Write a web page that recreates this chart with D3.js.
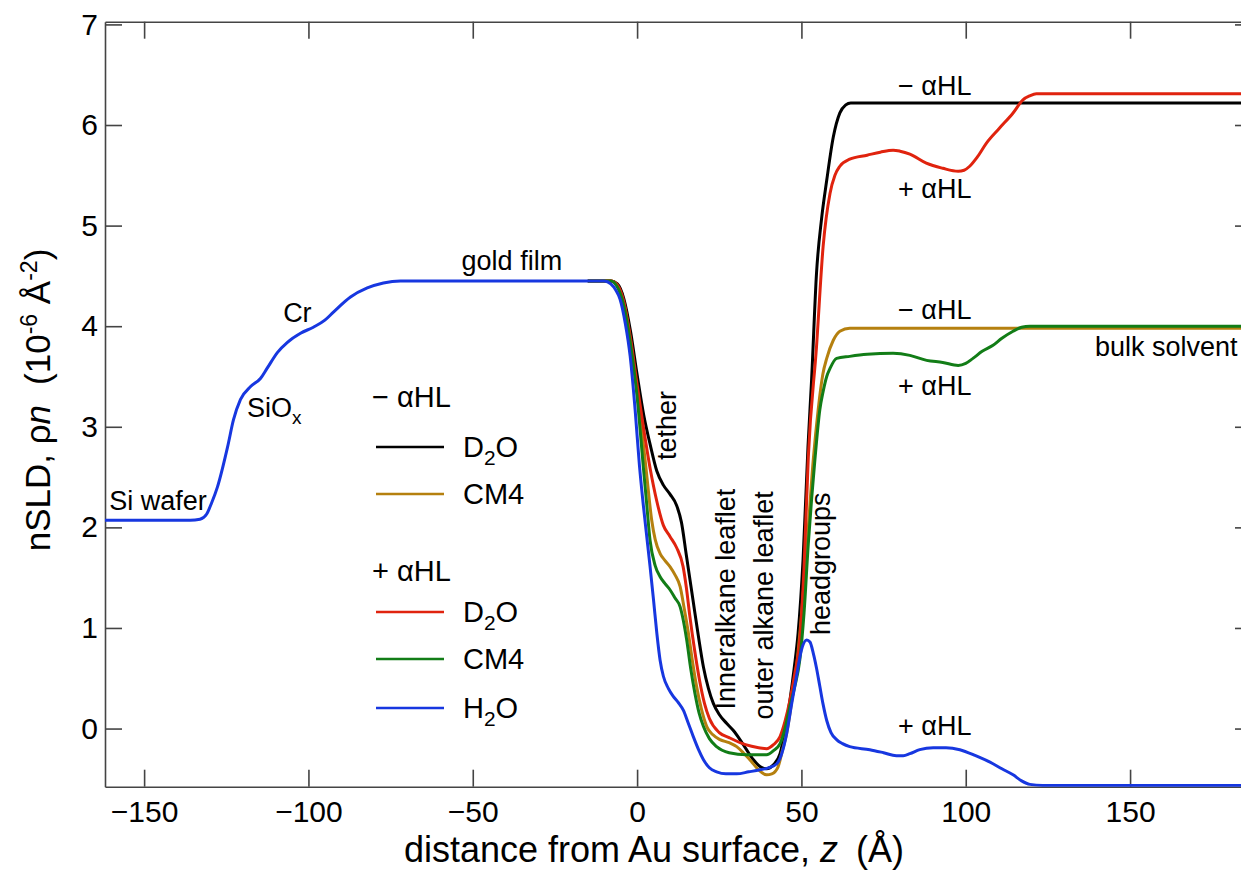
<!DOCTYPE html>
<html>
<head>
<meta charset="utf-8">
<script src="https://cdn.jsdelivr.net/npm/d3@7"></script>
<style>
  html, body { margin: 0; padding: 0; background: #fff; overflow: hidden; }
  svg { display: block; font-family: "Liberation Sans", Arial, Helvetica, sans-serif; }
  .axis path, .axis line { stroke: #444; stroke-width: 1.6; }
  .axis text { fill: #000; font-size: 30px; }
  .curve { fill: none; stroke-width: 3; stroke-linejoin: round; }
</style>
</head>
<body>
<div id="chart"></div>
<script>
// nSLD profiles, [z (Å), rho (1e-6 Å^-2)]
const h2oPlus = [[-161.9,2.07],[-136,2.07],[-133,2.08],[-131,2.13],[-129.5,2.24],[-127.7,2.40],[-124.6,2.80],[-122.8,3.07],[-120.7,3.27],[-117.6,3.40],[-114.6,3.48],[-112.6,3.58],[-109.4,3.74],[-106.4,3.84],[-102.4,3.93],[-98.5,3.99],[-95,4.06],[-92.4,4.14],[-87.2,4.29],[-82.1,4.38],[-77.2,4.43],[-72,4.45],[-10,4.45],[-8,4.42],[-6.5,4.36],[-5.2,4.27],[-3.6,4.03],[-2.1,3.70],[-0.6,3.17],[0.7,2.62],[1.9,2.22],[2.8,1.95],[3.95,1.61],[5,1.28],[6,0.95],[7,0.68],[8,0.52],[9.5,0.40],[11,0.32],[12.5,0.26],[14.1,0.18],[15.5,0.06],[17.1,-0.08],[18.7,-0.21],[20.2,-0.31],[22,-0.39],[24.2,-0.43],[27,-0.45],[30.3,-0.45],[34,-0.43],[37.4,-0.41],[40,-0.39],[42.5,-0.35],[44,-0.25],[45.5,-0.05],[47,0.24],[48.5,0.52],[50,0.78],[51.6,0.88],[52.6,0.86],[53.6,0.75],[54.6,0.6],[55.6,0.42],[56.6,0.24],[57.7,0.08],[59,-0.04],[60.7,-0.11],[62.5,-0.15],[64.7,-0.18],[70.8,-0.21],[75,-0.24],[78.9,-0.27],[81,-0.27],[83,-0.25],[86,-0.21],[90.1,-0.19],[94,-0.19],[98.2,-0.21],[103,-0.27],[108.3,-0.35],[111,-0.40],[114.4,-0.46],[117,-0.52],[119.5,-0.555],[123.4,-0.565],[187.1,-0.565]];

const d2oMinus = [[-15,4.45],[-8,4.45],[-6,4.42],[-4,4.27],[-2,3.95],[0,3.52],[2,3.12],[4,2.82],[6,2.56],[8,2.42],[10,2.33],[12,2.22],[13.5,2.05],[15,1.72],[17,1.28],[18.6,0.93],[20.2,0.61],[21.7,0.40],[23.2,0.25],[25,0.14],[27.3,0.05],[29.3,-0.02],[31.3,-0.11],[33.3,-0.21],[35.4,-0.31],[37.5,-0.38],[39.4,-0.40],[41.5,-0.36],[43.5,-0.25],[45,-0.02],[46.5,0.28],[47.8,0.60],[49,0.95],[50.5,1.68],[52,2.80],[53.1,3.47],[54.6,4.53],[56.1,5.06],[57.7,5.45],[59.7,5.88],[61.7,6.12],[63.5,6.20],[65,6.22],[187.1,6.22]];

const cm4Minus = [[-15,4.45],[-8,4.45],[-6,4.40],[-4,4.22],[-2,3.85],[0,3.35],[2,2.80],[3,2.50],[4.45,2.07],[5.5,1.88],[7,1.74],[8.5,1.67],[10,1.61],[11.5,1.53],[13.1,1.41],[14.3,1.20],[15.6,0.95],[16.8,0.68],[18.1,0.42],[19.6,0.19],[21.2,0.02],[23,-0.06],[25.2,-0.11],[28,-0.14],[30.3,-0.18],[32.3,-0.24],[34.3,-0.31],[37,-0.41],[39.4,-0.46],[41,-0.45],[42.9,-0.38],[44.2,-0.22],[45.5,-0.05],[47,0.26],[48.5,0.61],[50,1.12],[51.6,1.77],[53.6,2.67],[55.1,3.17],[56.5,3.52],[57.7,3.68],[59.7,3.86],[61.7,3.95],[64.7,3.98],[187.1,3.98]];

const d2oPlus = [[-15,4.45],[-8,4.45],[-6,4.41],[-4,4.24],[-2,3.88],[0,3.42],[2,2.98],[4,2.58],[6,2.26],[8,2.02],[10,1.91],[12,1.80],[14,1.61],[15,1.40],[16,1.13],[17.5,0.78],[19,0.48],[20.5,0.25],[22,0.10],[25,-0.04],[28,-0.09],[33,-0.16],[37,-0.19],[39.4,-0.20],[41.5,-0.16],[43.5,-0.08],[45,0.07],[46.5,0.28],[48,0.55],[49.5,0.88],[50.8,1.6],[52.1,2.70],[54.6,3.80],[56.6,4.79],[58.7,5.32],[60.2,5.50],[61.7,5.59],[64.7,5.66],[70,5.70],[74,5.73],[77.9,5.75],[80,5.74],[83,5.71],[88,5.62],[93,5.57],[97.7,5.54],[99.5,5.55],[101.2,5.59],[103.5,5.68],[106.3,5.82],[110.3,5.97],[114.4,6.12],[117.4,6.25],[119.5,6.29],[121.5,6.31],[187.1,6.31]];

const cm4Plus = [[-15,4.45],[-8,4.45],[-6,4.39],[-4,4.20],[-2,3.82],[0,3.30],[1.9,2.60],[2.9,2.24],[3.95,1.87],[5.5,1.62],[7,1.51],[8.5,1.44],[10,1.38],[11.5,1.30],[13.1,1.21],[14.1,1.07],[15.1,0.88],[16.3,0.60],[17.6,0.35],[18.9,0.15],[20.2,0.02],[22,-0.10],[24.2,-0.18],[28,-0.24],[33.3,-0.26],[39.4,-0.26],[41.5,-0.22],[43.5,-0.15],[45,0.00],[46.5,0.22],[48,0.42],[49.5,0.68],[50.8,1.15],[52.1,1.84],[53.1,2.28],[54.1,2.67],[55.6,3.17],[56.6,3.35],[57.7,3.50],[58.7,3.58],[60.7,3.68],[64.7,3.70],[70,3.72],[77.9,3.73],[83,3.71],[88.1,3.66],[93,3.64],[97.7,3.61],[100,3.63],[102.2,3.68],[105,3.75],[108.3,3.81],[111,3.88],[114.4,3.95],[117,3.99],[119.5,4.00],[187.1,4.00]];

const xTicks = [-150, -100, -50, 0, 50, 100, 150];
const yTicks = [0, 1, 2, 3, 4, 5, 6, 7];

// draw order: later ones on top
const series = [
  { name: `D2O`, group: `minus`, color: `#000000`, data: d2oMinus },
  { name: `CM4`, group: `minus`, color: `#b5800f`, data: cm4Minus },
  { name: `D2O`, group: `plus`, color: `#e0230e`, data: d2oPlus },
  { name: `CM4`, group: `plus`, color: `#127d17`, data: cm4Plus },
  { name: `H2O`, group: `plus`, color: `#1737e0`, data: h2oPlus }
];

// [text, z, rho]
const annotations = [
  [`Si wafer`, -160.6, 2.17],
  [`Cr`, -107.7, 4.04],
  [`gold film`, -53.4, 4.56],
  [`− αHL`, 79.4, 6.30],
  [`+ αHL`, 79.4, 5.27],
  [`− αHL`, 79.4, 4.07],
  [`+ αHL`, 79.4, 3.32],
  [`bulk solvent`, 139.3, 3.70],
  [`+ αHL`, 79.4, -0.06]
];
// rotated labels [text, z (baseline), rho (start)]
const vLabels = [
  [`tether`, 11.9, 2.67],
  [`Inneralkane leaflet`, 29.8, 0.19],
  [`outer alkane leaflet`, 41.4, 0.09],
  [`headgroups`, 58.6, 0.93]
];

const W = 1241, H = 871;
const m = { left: 105, right: 1252, top: 21.7, bottom: 786.7 };

const x = d3.scaleLinear().domain([-161.9, 187.1]).range([m.left, m.right]);
const y = d3.scaleLinear().domain([-0.578, 7.027]).range([m.bottom, m.top]);

const svg = d3.select(`#chart`).append(`svg`)
    .attr(`width`, W)
    .attr(`height`, H);

svg.append(`clipPath`).attr(`id`, `clip`)
  .append(`rect`)
    .attr(`x`, m.left).attr(`y`, m.top)
    .attr(`width`, m.right - m.left).attr(`height`, m.bottom - m.top);

const fmt = (d) => d < 0 ? `−${Math.abs(d)}` : `${d}`;

svg.append(`g`).attr(`class`, `axis`)
    .attr(`transform`, `translate(0,${m.bottom})`)
    .call(d3.axisBottom(x).tickValues(xTicks).tickFormat(fmt).tickSizeInner(-17).tickSizeOuter(0).tickPadding(14));
svg.append(`g`).attr(`class`, `axis`)
    .attr(`transform`, `translate(0,${m.top})`)
    .call(d3.axisTop(x).tickValues(xTicks).tickFormat(``).tickSizeInner(-17).tickSizeOuter(0));
svg.append(`g`).attr(`class`, `axis`)
    .attr(`transform`, `translate(${m.left},0)`)
    .call(d3.axisLeft(y).tickValues(yTicks).tickSizeInner(-17).tickSizeOuter(0).tickPadding(7));
svg.append(`g`).attr(`class`, `axis`)
    .attr(`transform`, `translate(${m.right},0)`)
    .call(d3.axisRight(y).tickValues(yTicks).tickFormat(``).tickSizeInner(-17).tickSizeOuter(0));

svg.selectAll(`.axis`).attr(`font-family`, null).attr(`font-size`, null);

const line = d3.line()
    .x((d) => x(d[0]))
    .y((d) => y(d[1]))
    .curve(d3.curveMonotoneX);

svg.append(`g`).attr(`clip-path`, `url(#clip)`)
  .selectAll(`path`)
    .data(series)
  .enter().append(`path`)
    .attr(`class`, `curve`)
    .attr(`stroke`, (d) => d.color)
    .attr(`d`, (d) => line(d.data));

// subscript helper: "D2O" -> D<sub>2</sub>O
const addChem = (sel, s, size) => {
  const m2 = s.match(/^([A-Z])(\d)(.*)$/);
  if (!m2) { sel.text(s); return; }
  sel.append(`tspan`).text(m2[1]);
  sel.append(`tspan`).attr(`dy`, size * 0.28).attr(`font-size`, size * 0.72).text(m2[2]);
  sel.append(`tspan`).attr(`dy`, -size * 0.28).text(m2[3]);
};

// annotations
const ann = svg.append(`g`).attr(`font-size`, 27);
ann.selectAll(`text.ann`)
    .data(annotations)
  .enter().append(`text`)
    .attr(`class`, `ann`)
    .attr(`x`, (d) => x(d[1]))
    .attr(`y`, (d) => y(d[2]))
    .text((d) => d[0]);

const siox = ann.append(`text`).attr(`x`, x(-118.7)).attr(`y`, y(3.10));
siox.append(`tspan`).text(`SiO`);
siox.append(`tspan`).attr(`dy`, 7).attr(`font-size`, 19).text(`x`);

ann.selectAll(`text.vlab`)
    .data(vLabels)
  .enter().append(`text`)
    .attr(`class`, `vlab`)
    .attr(`transform`, (d) => `translate(${x(d[1])},${y(d[2])}) rotate(-90)`)
    .text((d) => d[0]);

// legend
const legendX = 372, lineX0 = 376, lineX1 = 444, textX = 463;
const legendRows = [
  { head: `− αHL`, y: 407 },
  { s: series[0], y: 447 },
  { s: series[1], y: 494 },
  { head: `+ αHL`, y: 581 },
  { s: series[2], y: 612 },
  { s: series[3], y: 659 },
  { s: series[4], y: 708 }
];
const lg = svg.append(`g`).attr(`font-size`, 29);
legendRows.forEach((r) => {
  if (r.head) {
    lg.append(`text`).attr(`x`, legendX).attr(`y`, r.y).text(r.head);
  } else {
    lg.append(`line`)
        .attr(`x1`, lineX0).attr(`x2`, lineX1)
        .attr(`y1`, r.y).attr(`y2`, r.y)
        .attr(`stroke`, r.s.color).attr(`stroke-width`, 2.6);
    addChem(lg.append(`text`).attr(`x`, textX).attr(`y`, r.y + 10), r.s.name, 29);
  }
});

// axis titles
const xt = svg.append(`text`)
    .attr(`x`, 654).attr(`y`, 862)
    .attr(`text-anchor`, `middle`)
    .attr(`font-size`, 36);
xt.append(`tspan`).text(`distance from Au surface, `);
xt.append(`tspan`).attr(`font-style`, `italic`).text(`z`);
xt.append(`tspan`).attr(`dx`, 18).text(`(Å)`);

const yt = svg.append(`text`)
    .attr(`transform`, `translate(50,400) rotate(-90)`)
    .attr(`text-anchor`, `middle`)
    .attr(`font-size`, 35);
yt.append(`tspan`).text(`nSLD, ρ`);
yt.append(`tspan`).attr(`font-style`, `italic`).text(`n`);
yt.append(`tspan`).attr(`dx`, 20).text(`(10`);
yt.append(`tspan`).attr(`dy`, -13).attr(`font-size`, 23).text(`-6`);
yt.append(`tspan`).attr(`dy`, 13).text(` Å`);
yt.append(`tspan`).attr(`dy`, -13).attr(`font-size`, 23).text(`-2`);
yt.append(`tspan`).attr(`dy`, 13).text(`)`);
</script>
</body>
</html>
